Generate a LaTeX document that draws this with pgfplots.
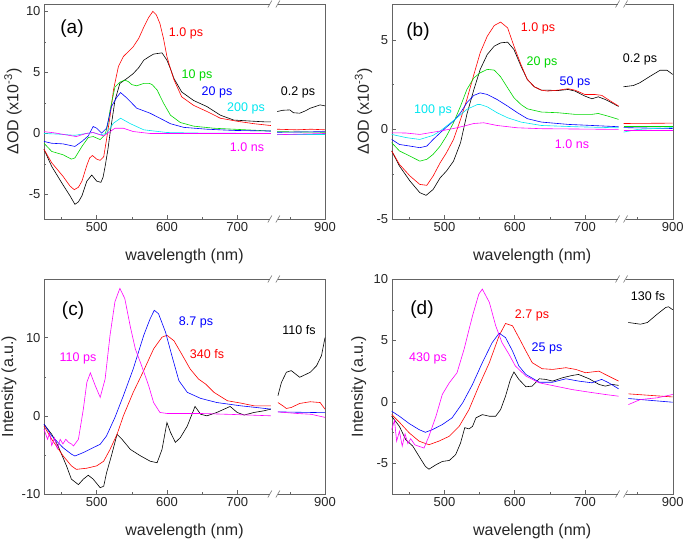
\documentclass[border=0pt]{standalone}
\usepackage{fontspec}
\setmainfont{Liberation Sans}
\usepackage{pgfplots}
\pgfplotsset{compat=1.18}

\definecolor{cgreen}{RGB}{0,215,0}
\definecolor{ccyan}{RGB}{0,230,240}
\definecolor{cmag}{RGB}{255,0,255}
\definecolor{axgray}{RGB}{100,100,100}

\pgfplotsset{
  panel/.style={
    scale only axis, width=281pt, height=215pt, anchor=south west,
    xmin=425, xmax=825,
    xtick={500,600,700,825}, xticklabels={500,600,700,900},
    minor xtick={450,550,650,775},
    minor y tick num=1,
    tick pos=left, tick align=inside,
    major tick length=4pt, minor tick length=2pt,
    axis line style={axgray}, every tick/.style={axgray},
    tick label style={font=\fontsize{13}{15}\selectfont, text=black!85},
    /pgf/number format/assume math mode=true,
    clip=false,
    xlabel={wavelength (nm)},
    every axis x label/.style={at={(axis description cs:0.5,-0.175)}, anchor=center,
      font=\fontsize{16}{18}\selectfont, text=black!85},
    every axis plot/.append style={line width=0.6pt},
  },
  ylab/.style={every axis y label/.style={at={(axis description cs:#1,0.5)}, rotate=90,
      anchor=center, font=\fontsize{16}{18}\selectfont, text=black!85}},
  seg/.style={x filter/.expression={x-75}},
}

% axis break marks at top (1) or bottom (0)
\newcommand{\brk}[1]{%
  \fill[white] ([xshift=-4pt,yshift=-1.5pt]rel axis cs:0.818,#1) rectangle ([xshift=4pt,yshift=1.5pt]rel axis cs:0.818,#1);
  \draw[axgray,line width=0.5pt] ([xshift=-6pt,yshift=-3.5pt]rel axis cs:0.818,#1) -- ([xshift=-2pt,yshift=3.5pt]rel axis cs:0.818,#1);
  \draw[axgray,line width=0.5pt] ([xshift=2pt,yshift=-3.5pt]rel axis cs:0.818,#1) -- ([xshift=6pt,yshift=3.5pt]rel axis cs:0.818,#1);
}

\begin{document}
\begin{tikzpicture}
\path[use as bounding box] (0,0) rectangle (685pt,541pt);

% ---------------- (a)
\begin{axis}[panel, at={(44pt,322pt)},
  ymin=-7, ymax=10.6, ytick={-5,0,5,10},
  ylabel={ΔOD (x10\textsuperscript{-3})}, ylab=-0.11]
\addplot[black] coordinates {(425,-1.3)(436,-2.7)(452,-4.2)(462,-5.1)(469,-5.8)(474,-5.6)(479,-5.1)(486,-3.9)(493,-3.4)(500,-3.9)(506,-4.0)(509,-3.6)(512,-2.7)(516,-1.3)(519,0.0)(526,2.7)(533,4.1)(543,4.5)(552,4.9)(560,5.4)(567,6.0)(575,6.3)(581,6.5)(593,6.6)(600,6.0)(605,5.3)(610,4.5)(621,3.4)(638,2.7)(657,2.2)(676,1.5)(695,1.1)(724,1.0)(740,0.95)(748,0.95)};
\addplot[black,seg] coordinates {(832,1.8)(840,1.9)(850,1.93)(855,1.7)(864,1.66)(872,1.85)(879,2.07)(893,2.34)(900,2.26)};
\addplot[red] coordinates {(425,-1.3)(436,-2.4)(452,-3.5)(462,-4.3)(468,-4.6)(474,-4.4)(479,-3.9)(486,-2.6)(490,-2.0)(494,-1.8)(500,-2.1)(505,-2.2)(510,-1.9)(514,-0.5)(519,1.4)(524,3.6)(531,5.5)(538,6.3)(545,6.7)(552,7.1)(560,7.8)(567,8.7)(574,9.5)(580,10.0)(585,9.7)(590,9.0)(595,7.8)(600,6.3)(605,5.3)(610,4.4)(621,3.0)(638,2.3)(657,1.8)(676,1.25)(700,1.0)(724,0.8)(748,0.65)};
\addplot[red,seg] coordinates {(832,0.35)(860,0.3)(880,0.35)(900,0.3)};
\addplot[cgreen] coordinates {(425,-0.8)(436,-1.47)(452,-1.74)(464,-2.1)(469,-2.0)(479,-1.06)(488,-0.33)(495,-0.25)(505,-0.5)(512,-0.1)(516,0.8)(519,1.9)(526,3.8)(533,4.2)(540,4.37)(545,4.25)(550,4.0)(557,3.9)(567,4.1)(575,4.1)(579,4.0)(586,3.56)(595,2.5)(605,1.5)(619,0.9)(638,0.6)(667,0.43)(695,0.35)(748,0.2)};
\addplot[cgreen,seg] coordinates {(832,0.15)(900,0.1)};
\addplot[blue] coordinates {(425,-0.65)(436,-0.8)(452,-0.85)(469,-1.06)(479,-0.65)(488,-0.2)(495,0.57)(500,0.43)(507,0.03)(514,0.43)(521,2.2)(529,3.0)(534,3.35)(543,2.9)(557,2.07)(576,1.66)(590,1.25)(605,0.8)(624,0.5)(657,0.35)(695,0.25)(748,0.2)};
\addplot[blue,seg] coordinates {(832,0.1)(900,0.15)};
\addplot[ccyan] coordinates {(425,0)(445,-0.05)(469,-0.15)(485,0.0)(495,0.08)(505,-0.1)(514,0)(524,0.85)(534,1.25)(548,0.8)(567,0.3)(600,0.08)(650,0.03)(748,0)};
\addplot[ccyan,seg] coordinates {(832,-0.05)(900,-0.05)};
\addplot[cmag] coordinates {(425,0.15)(440,0.05)(455,-0.1)(471,-0.25)(485,0.0)(495,0.08)(510,-0.2)(526,0.43)(538,0.43)(552,0.16)(576,0)(650,0)(748,0)};
\addplot[cmag,seg] coordinates {(832,-0.1)(900,0)};
\brk{0}\brk{1}
\end{axis}

% ---------------- (b)
\begin{axis}[panel, at={(391.7pt,322pt)},
  ymin=-5, ymax=7, ytick={-5,0,5},
  ylabel={ΔOD (x10\textsuperscript{-3})}, ylab=-0.10]
\addplot[black] coordinates {(425,-1.2)(436,-2.04)(451,-2.88)(465,-3.53)(474,-3.68)(484,-3.35)(494,-2.7)(503,-2.32)(513,-1.77)(523,-0.74)(532,0.84)(542,2.23)(551,3.35)(561,4.18)(571,4.65)(580,4.83)(590,4.87)(599,4.46)(609,3.53)(618,2.79)(628,2.38)(638,2.19)(647,2.19)(662,2.17)(676,2.23)(686,2.14)(700,1.86)(710,1.71)(719,1.82)(729,1.67)(738,1.49)(748,1.28)};
\addplot[black,seg] coordinates {(830,2.38)(844,2.45)(853,2.6)(868,2.97)(882,3.3)(892,3.3)(900,3.07)};
\addplot[red] coordinates {(425,-1.2)(436,-1.95)(451,-2.6)(465,-3.07)(475,-3.12)(484,-2.6)(494,-1.86)(503,-1.3)(513,-0.56)(523,0.56)(532,1.67)(542,3.07)(551,4.28)(561,5.2)(571,5.8)(580,5.99)(590,5.67)(599,4.65)(609,3.62)(618,2.79)(628,2.38)(638,2.19)(647,2.14)(662,2.19)(676,2.27)(686,2.19)(700,1.95)(714,1.95)(724,1.9)(733,1.67)(748,1.3)};
\addplot[red,seg] coordinates {(830,0.33)(900,0.35)};
\addplot[cgreen] coordinates {(425,-0.74)(436,-1.2)(451,-1.49)(465,-1.77)(475,-1.67)(484,-1.39)(494,-0.93)(503,-0.37)(513,0.37)(523,1.3)(532,2.23)(542,2.88)(551,3.16)(561,3.35)(571,3.31)(580,2.94)(590,2.32)(599,1.77)(609,1.39)(618,1.15)(638,0.97)(662,0.93)(686,0.84)(710,0.84)(719,0.89)(733,0.74)(748,0.56)};
\addplot[cgreen,seg] coordinates {(830,0.15)(900,0.15)};
\addplot[blue] coordinates {(425,-0.56)(436,-0.84)(451,-0.93)(465,-1.02)(475,-0.93)(484,-0.56)(494,-0.19)(503,0.13)(513,0.46)(523,0.93)(532,1.49)(542,1.9)(551,2.04)(561,1.95)(575,1.67)(590,1.3)(604,0.93)(618,0.6)(638,0.41)(676,0.28)(710,0.22)(748,0.15)};
\addplot[blue,seg] coordinates {(830,0.1)(900,0.05)};
\addplot[ccyan] coordinates {(425,-0.28)(446,-0.46)(465,-0.56)(484,-0.33)(494,-0.09)(503,0.19)(518,0.65)(532,1.12)(547,1.39)(551,1.39)(561,1.26)(575,0.93)(590,0.65)(609,0.41)(638,0.22)(686,0.15)(748,0.09)};
\addplot[ccyan,seg] coordinates {(830,-0.15)(850,0)(900,0.1)};
\addplot[cmag] coordinates {(425,-0.19)(445,-0.2)(465,-0.28)(494,-0.09)(518,0.09)(542,0.33)(556,0.37)(575,0.22)(604,0.09)(638,0.04)(748,0)};
\addplot[cmag,seg] coordinates {(830,-0.05)(900,-0.05)};
\brk{0}\brk{1}
\end{axis}

% ---------------- (c)
\begin{axis}[panel, at={(44pt,47pt)},
  ymin=-10, ymax=17.5, ytick={-10,0,10},
  ylabel={Intensity (a.u.)}, ylab=-0.125]
\addplot[black] coordinates {(425,-1.07)(436,-2.36)(445,-3.85)(457,-6.4)(464,-8.1)(474,-8.8)(481,-8.1)(488,-7.6)(495,-8.1)(505,-9.2)(510,-9.0)(514,-7.3)(521,-5.1)(529,-2.36)(536,-3.0)(548,-4.3)(562,-5.1)(576,-5.8)(586,-6.0)(593,-4.3)(600,-0.86)(605,-2.1)(612,-3.4)(619,-2.8)(629,-1.3)(640,1.2)(648,0.2)(657,0)(671,0.43)(690,1.2)(700,0.43)(710,0.1)(724,0.43)(738,0.64)(748,0.86)};
\addplot[black,seg] coordinates {(833,2.57)(838,4.28)(845,5.57)(852,5.78)(864,4.93)(879,5.57)(888,6.4)(895,7.7)(900,10.0)};
\addplot[red] coordinates {(425,-1.3)(436,-3.0)(452,-5.1)(464,-6.4)(471,-6.85)(486,-6.7)(500,-6.4)(510,-5.8)(519,-4.3)(529,-2.36)(538,0)(552,3.0)(567,5.8)(581,8.56)(593,10.06)(600,10.3)(610,9.6)(621,7.9)(633,6.0)(645,4.7)(655,4.07)(667,3.0)(686,1.93)(705,1.63)(724,1.28)(748,1.28)};
\addplot[red,seg] coordinates {(833,1.7)(840,1.28)(845,0.94)(852,1.07)(864,1.58)(879,1.8)(893,1.7)(900,0.86)};
\addplot[blue] coordinates {(425,-1.07)(436,-2.57)(452,-4.07)(464,-4.9)(469,-5.14)(481,-4.7)(495,-4.07)(505,-3.64)(514,-2.57)(526,-0.2)(538,2.57)(552,6.0)(567,10.3)(576,12.4)(582,13.5)(588,13.06)(598,10.7)(607,7.7)(617,4.5)(629,3.0)(648,2.23)(671,1.7)(705,1.28)(748,0.86)};
\addplot[blue,seg] coordinates {(833,0.5)(900,0.4)};
\addplot[cmag] coordinates {(425,-1.7)(430,-3.0)(433,-2.2)(436,-3.8)(440,-2.8)(444,-4.2)(448,-3.0)(452,-3.6)(456,-3.0)(460,-3.4)(464,-3.6)(467,-3.85)(474,-3.0)(481,0.86)(486,4.28)(491,5.5)(498,3.85)(505,2.36)(512,4.7)(519,10.3)(526,14.6)(533,16.3)(540,15.0)(548,11.35)(555,8.56)(564,6.4)(574,3.85)(581,1.7)(590,0.43)(600,0.3)(648,0.3)(695,0.17)(748,0)};
\addplot[cmag,seg] coordinates {(833,0.5)(860,0.3)(880,0.2)(900,-0.2)};
\brk{0}\brk{1}
\end{axis}

% ---------------- (d)
\begin{axis}[panel, at={(391.7pt,47pt)},
  ymin=-7.5, ymax=10, ytick={-5,0,5,10},
  ylabel={Intensity (a.u.)}, ylab=-0.117]
\addplot[black] coordinates {(425,-1.17)(436,-2.0)(445,-3.08)(455,-3.6)(464,-4.44)(473,-5.26)(478,-5.48)(488,-5.12)(497,-4.85)(507,-4.77)(516,-4.3)(523,-3.35)(529,-2.1)(535,-2.2)(540,-2.0)(545,-1.3)(554,-1.04)(564,-1.17)(573,-1.17)(580,-0.63)(587,0.46)(594,1.83)(599,2.43)(606,1.83)(616,1.23)(625,1.28)(635,1.88)(644,1.83)(654,1.69)(668,1.96)(682,2.15)(691,2.23)(706,1.88)(720,1.42)(729,1.28)(739,1.42)(748,1.34)};
\addplot[black,seg] coordinates {(837,6.46)(854,6.32)(864,6.46)(878,7.14)(890,7.68)(894,7.74)(900,7.5)};
\addplot[red] coordinates {(425,-1.04)(436,-1.66)(450,-2.53)(464,-3.2)(478,-3.49)(492,-3.2)(507,-2.8)(521,-2.0)(535,-0.63)(549,1.28)(564,3.19)(578,5.4)(587,6.38)(597,6.19)(606,5.23)(616,4.14)(625,3.19)(639,2.7)(654,2.64)(673,2.78)(687,2.64)(701,2.37)(720,2.5)(729,2.23)(748,1.69)};
\addplot[red,seg] coordinates {(837,0.65)(900,0.4)};
\addplot[blue] coordinates {(425,-0.76)(436,-1.17)(450,-1.77)(464,-2.26)(473,-2.48)(483,-2.26)(497,-1.85)(511,-1.3)(526,-0.08)(540,1.42)(554,3.19)(568,4.82)(578,5.59)(587,5.23)(597,4.14)(606,2.92)(616,2.23)(635,1.6)(654,1.6)(673,1.88)(691,1.69)(710,1.55)(724,1.83)(734,1.55)(748,1.06)};
\addplot[blue,seg] coordinates {(837,0.27)(900,-0.03)};
\addplot[cmag] coordinates {(425,-2.26)(429,-1.5)(432,-3.2)(436,-2.4)(440,-3.6)(444,-2.6)(448,-3.4)(452,-3.0)(458,-3.5)(464,-3.62)(471,-3.76)(478,-2.8)(488,-1.17)(497,0.6)(507,1.55)(518,2.37)(528,4.28)(540,7.0)(549,8.77)(554,9.18)(564,8.1)(573,6.2)(582,4.82)(592,3.87)(601,2.92)(616,2.1)(635,1.55)(658,1.28)(682,1.0)(706,0.79)(729,0.6)(748,0.46)};
\addplot[cmag,seg] coordinates {(837,-0.22)(854,0.19)(878,0.33)(900,0.6)};
\brk{0}\brk{1}
\end{axis}

% ---------------- annotations
\begin{scope}[every node/.style={font=\fontsize{12.5}{14}\selectfont, inner sep=0pt}]
\node[font=\fontsize{19}{21}\selectfont] at (72pt,512pt) {(a)};
\node[red] at (186pt,508pt) {1.0 ps};
\node[cgreen] at (197pt,466pt) {10 ps};
\node[blue] at (217pt,449pt) {20 ps};
\node[ccyan] at (246pt,433pt) {200 ps};
\node[black] at (298pt,449pt) {0.2 ps};
\node[cmag] at (247pt,394pt) {1.0 ns};

\node[font=\fontsize{19}{21}\selectfont] at (418pt,509pt) {(b)};
\node[red] at (538pt,513pt) {1.0 ps};
\node[cgreen] at (542pt,479pt) {20 ps};
\node[blue] at (575pt,459pt) {50 ps};
\node[black] at (640pt,482pt) {0.2 ps};
\node[ccyan] at (433pt,431pt) {100 ps};
\node[cmag] at (572pt,397pt) {1.0 ns};

\node[font=\fontsize{19}{21}\selectfont] at (73pt,230pt) {(c)};
\node[blue] at (196pt,219pt) {8.7 ps};
\node[black] at (299pt,211pt) {110 fs};
\node[cmag] at (78pt,183pt) {110 ps};
\node[red] at (207pt,187pt) {340 fs};

\node[font=\fontsize{19}{21}\selectfont] at (422pt,231pt) {(d)};
\node[red] at (532pt,226pt) {2.7 ps};
\node[blue] at (547pt,193pt) {25 ps};
\node[black] at (648pt,245pt) {130 fs};
\node[cmag] at (428pt,183pt) {430 ps};
\end{scope}
\end{tikzpicture}
\end{document}
